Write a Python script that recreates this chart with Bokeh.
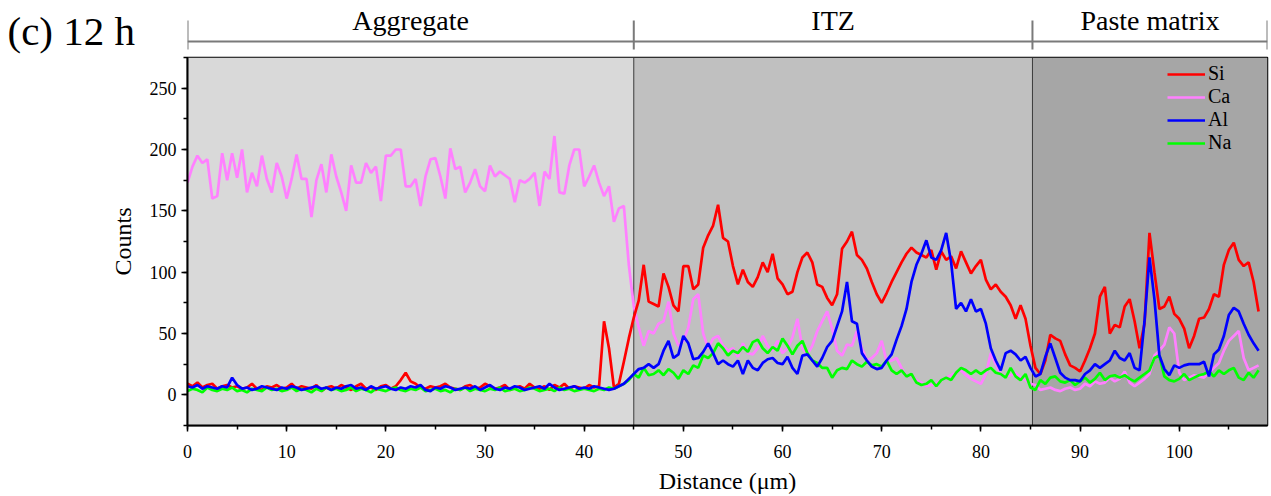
import numpy as np
from bokeh.plotting import figure
from bokeh.layouts import column
from bokeh.models import Range1d, SingleIntervalTicker, Legend, LegendItem, Label, Arrow
from bokeh.embed import file_html
from bokeh.resources import INLINE
from bokeh.core.properties import value

# ---------------- data (counts sampled every 0.5 um, 0 .. 108 um) ----------------
step_um = 0.5

si_counts = [
    9, 7, 10, 6, 8, 9, 5, 7, 8, 6, 7, 5, 6, 9, 5, 4, 7, 6, 8, 5,
    6, 9, 5, 7, 6, 5, 8, 3, 6, 7, 5, 8, 6, 4, 7, 9, 5, 6, 4, 7,
    8, 5, 7, 12, 18, 11, 9, 6, 5, 7, 6, 7, 9, 6, 5, 4, 7, 8, 5, 6,
    9, 7, 5, 6, 8, 4, 6, 7, 5, 9, 6, 5, 7, 4, 8, 6, 9, 5, 7, 6,
    5, 8, 6, 7, 60, 38, 6, 9, 27, 46,
    63, 77, 106, 76, 74, 72, 99, 88, 73, 68, 105, 105, 86, 90, 120, 130, 138, 155, 128, 125,
    105, 90, 102, 92, 88, 96, 108, 100, 115, 95, 90, 82, 84, 100, 112, 116, 108, 90, 88, 79,
    73, 82, 119, 125, 133, 114, 110, 103, 92, 82, 75, 83, 92, 100, 108, 115, 120, 116, 114, 112,
    118, 102, 117, 110, 113, 103, 117, 108, 99, 105, 110, 94, 86, 90, 84, 80, 73, 62, 73, 62,
    40, 22,
    17, 28, 49, 46, 44, 33, 24, 22, 19, 28, 38, 50, 80, 88, 50, 57, 55, 72, 78, 60,
    38, 58, 132, 100, 70, 72, 80, 66, 62, 54, 38, 48, 62, 63, 70, 82, 80, 106, 118, 124,
    110, 105, 108, 92, 68,
]

ca_counts = [
    173, 186, 195, 189, 192, 160, 162, 197, 175, 197, 177, 200, 165, 181, 170, 195, 176, 165, 189, 178,
    160, 176, 196, 176, 176, 145, 175, 188, 165, 196, 178, 165, 150, 187, 173, 173, 189, 181, 186, 158,
    195, 195, 200, 200, 170, 170, 176, 154, 178, 192, 193, 178, 160, 201, 184, 186, 165, 173, 184, 170,
    166, 187, 178, 182, 179, 176, 157, 175, 173, 176, 181, 154, 182, 176, 211, 165, 164, 187, 200, 200,
    170, 178, 187, 173, 162, 170, 141, 152, 154, 106,
    72, 55, 40, 52, 50, 58, 60, 76, 50, 40, 44, 55, 78, 82, 50, 38, 46, 48, 40, 36,
    38, 31, 42, 34, 33, 38, 48, 40, 36, 44, 34, 38, 47, 62, 38, 33, 40, 52, 60, 68,
    54, 36, 32, 41, 40, 52, 38, 28, 30, 34, 44, 27, 28, 30, 22, 15, 16, 12, 10, 7,
    8, 9, 12, 14, 16, 18, 20, 16, 13, 11, 9, 17, 34, 25, 17, 15, 16, 18, 14, 12,
    9, 8,
    4, 5, 6, 4, 3, 5, 6, 4, 5, 9, 7, 11, 9, 10, 14, 11, 13, 19, 10, 7,
    10, 13, 17, 32, 36, 41, 55, 50, 18, 12, 14, 16, 15, 14, 18, 22, 26, 36, 44, 48,
    52, 30, 20, 22, 24,
]

al_counts = [
    7, 6, 8, 5, 7, 6, 5, 7, 6, 14, 8, 5, 6, 4, 5, 7, 6, 5, 4, 6,
    5, 7, 6, 4, 5, 6, 7, 5, 6, 4, 6, 5, 7, 8, 5, 6, 4, 7, 5, 6,
    7, 5, 4, 6, 5, 7, 6, 8, 4, 3, 6, 5, 7, 6, 4, 5, 6, 5, 7, 4,
    6, 8, 5, 4, 6, 5, 7, 6, 4, 5, 6, 7, 5, 9, 6, 4, 5, 6, 7, 5,
    6, 5, 7, 6, 5, 4, 5, 7, 9, 13,
    17, 21, 22, 25, 22, 25, 36, 44, 30, 33, 48, 42, 29, 30, 35, 42, 34, 25, 28, 25,
    23, 28, 17, 28, 22, 20, 26, 29, 30, 26, 25, 31, 22, 17, 32, 33, 28, 23, 30, 39,
    44, 56, 68, 92, 60, 58, 34, 28, 23, 21, 22, 28, 33, 45, 56, 70, 92, 106, 115, 126,
    112, 110, 118, 132, 108, 70, 75, 68, 78, 68, 70, 58, 38, 28, 20, 34, 36, 33, 28, 31,
    22, 15,
    17, 31, 42, 30, 18, 14, 12, 12, 11, 17, 20, 25, 22, 25, 28, 36, 30, 28, 34, 22,
    20, 60, 112, 78, 32, 21, 16, 24, 22, 24, 25, 25, 25, 27, 15, 33, 37, 48, 65, 71,
    68, 58, 49, 42, 36,
]

na_counts = [
    3, 5, 4, 2, 6, 4, 3, 5, 4, 6, 3, 4, 2, 5, 4, 3, 6, 4, 5, 3,
    4, 6, 3, 5, 4, 2, 5, 3, 6, 4, 5, 3, 4, 6, 3, 5, 4, 2, 5, 4,
    3, 5, 6, 4, 3, 5, 4, 6, 3, 4, 5, 3, 4, 2, 5, 4, 6, 3, 5, 4,
    3, 5, 4, 6, 3, 4, 5, 3, 4, 6, 5, 3, 4, 5, 3, 6, 4, 5, 3, 4,
    5, 4, 3, 5, 4, 6, 5, 7, 9, 12,
    17, 14, 22, 16, 17, 20, 16, 21, 18, 13, 20, 17, 24, 22, 32, 30, 34, 42, 38, 32,
    36, 34, 39, 35, 43, 45, 38, 34, 39, 36, 46, 40, 33, 40, 44, 34, 28, 26, 22, 22,
    14, 20, 22, 21, 28, 25, 23, 27, 24, 25, 23, 28, 20, 17, 20, 15, 17, 10, 8, 9,
    12, 7, 12, 14, 12, 18, 22, 20, 17, 20, 17, 20, 22, 18, 17, 14, 22, 15, 12, 17,
    6, 4,
    12, 9, 14, 15, 11, 10, 12, 8, 11, 14, 10, 13, 18, 12, 15, 16, 14, 16, 13, 11,
    14, 17, 20, 30, 32, 15, 12, 11, 13, 17, 12, 14, 16, 17, 19, 15, 20, 17, 20, 22,
    14, 12, 18, 14, 20,
]

distance_um = [round(i * step_um, 2) for i in range(len(si_counts))]

series_names = ["Si", "Ca", "Al", "Na"]
series_colors = ["#ff0000", "#ff80ff", "#0000ff", "#00ff00"]

zone_names = ["Aggregate", "ITZ", "Paste matrix"]
zone_edges = [0.0, 45.0, 85.2, 108.9]
zone_colors = ["#d9d9d9", "#c0c0c0", "#a6a6a6"]

x_ticks_interval = 10
y_ticks_interval = 50
y_limits = (-25, 275)

# ---------------- layout constants ----------------
W = 1271
TOP_H = 56
MAIN_H = 440
LEFT = 187
RIGHT = 4
FRAME_W = W - LEFT - RIGHT
SERIF = "Liberation Serif"

x_min, x_max = zone_edges[0], zone_edges[-1]
ppu = FRAME_W / (x_max - x_min)

# ---------------- top band with zone brackets ----------------
top = figure(width=W, height=TOP_H, output_backend="svg", toolbar_location=None,
             x_range=Range1d(x_min, x_max), y_range=Range1d(TOP_H, 0),
             x_axis_type=None, y_axis_type=None,
             min_border_left=LEFT, min_border_right=RIGHT,
             min_border_top=0, min_border_bottom=0)
top.outline_line_color = None
top.grid.visible = False
top.background_fill_color = "white"
top.border_fill_color = "white"

bracket_color = "#7a7a7a"
BR_Y, CAP_TOP, CAP_BOT = 41, 20, 49
top.add_layout(Arrow(x_start=x_min, x_end=x_max, y_start=BR_Y, y_end=BR_Y,
                     start=None, end=None, line_color=bracket_color, line_width=2))
for edge in zone_edges:
    top.add_layout(Arrow(x_start=edge, x_end=edge, y_start=CAP_TOP, y_end=CAP_BOT,
                         start=None, end=None, line_color=bracket_color, line_width=2))
for i, name in enumerate(zone_names):
    mid = (zone_edges[i] + zone_edges[i + 1]) / 2
    top.add_layout(Label(x=mid, y=20, text=name, text_font=SERIF, text_font_size="28px",
                         text_align="center", text_baseline="alphabetic", text_color="black"))
panel_label = Label(x=x_min - (LEFT - 7) / ppu, y=30, text="(c) 12 h", text_font=SERIF,
                    text_font_size="41px", text_align="left", text_baseline="alphabetic",
                    text_color="black")
top.add_layout(panel_label, "left")

# ---------------- main plot ----------------
p = figure(width=W, height=MAIN_H, output_backend="svg", toolbar_location=None,
           x_range=Range1d(x_min, x_max), y_range=Range1d(*y_limits),
           min_border_left=LEFT, min_border_right=RIGHT,
           min_border_top=1, min_border_bottom=68)
p.background_fill_color = "white"
p.border_fill_color = "white"
p.grid.visible = False
p.outline_line_color = "black"
p.outline_line_width = 1.5

p.quad(left=zone_edges[:-1], right=zone_edges[1:], bottom=y_limits[0], top=y_limits[1],
       fill_color=zone_colors, line_color=None)
p.segment(x0=zone_edges[1:-1], x1=zone_edges[1:-1],
          y0=[y_limits[0]] * 2, y1=[y_limits[1]] * 2, line_color="#3a3a3a", line_width=1)

data = {"Si": si_counts, "Ca": ca_counts, "Al": al_counts, "Na": na_counts}
color_of = dict(zip(series_names, series_colors))
renderers = {}
for name in ["Ca", "Si", "Na", "Al"]:
    renderers[name] = p.line(distance_um, data[name], line_color=color_of[name], line_width=2.7)

legend = Legend(items=[LegendItem(label=n, renderers=[renderers[n]]) for n in series_names],
                location=(976, 267), orientation="vertical",
                background_fill_alpha=0, border_line_alpha=0,
                label_text_font=SERIF, label_text_font_size="20px", label_text_color="black",
                glyph_width=38, glyph_height=22, label_height=22, label_standoff=3,
                spacing=0, padding=4, margin=0)
p.add_layout(legend)

p.xaxis.ticker = SingleIntervalTicker(interval=x_ticks_interval, num_minor_ticks=2)
p.yaxis.ticker = SingleIntervalTicker(interval=y_ticks_interval, num_minor_ticks=2)
p.xaxis.axis_label = "Distance (\u03bcm)"
p.yaxis.axis_label = "Counts"
for ax in (p.xaxis[0], p.yaxis[0]):
    ax.axis_line_color = "black"
    ax.axis_line_width = 2
    ax.major_tick_line_color = "black"
    ax.minor_tick_line_color = "black"
    ax.major_tick_line_width = 1.5
    ax.minor_tick_line_width = 1.5
    ax.major_tick_in = 0
    ax.major_tick_out = 6
    ax.minor_tick_in = 0
    ax.minor_tick_out = 4
    ax.major_label_text_font = SERIF
    ax.major_label_text_font_size = "18px"
    ax.major_label_text_color = "black"
    ax.axis_label_text_font = SERIF
    ax.axis_label_text_font_size = "24px"
    ax.axis_label_text_font_style = "normal"
    ax.axis_label_text_color = "black"
p.xaxis.major_label_standoff = 13
p.xaxis.axis_label_standoff = 7
p.yaxis.major_label_standoff = 5
p.yaxis.axis_label_standoff = 11

layout = column(top, p, spacing=0)
open("out.html", "w").write(file_html(layout, INLINE))
